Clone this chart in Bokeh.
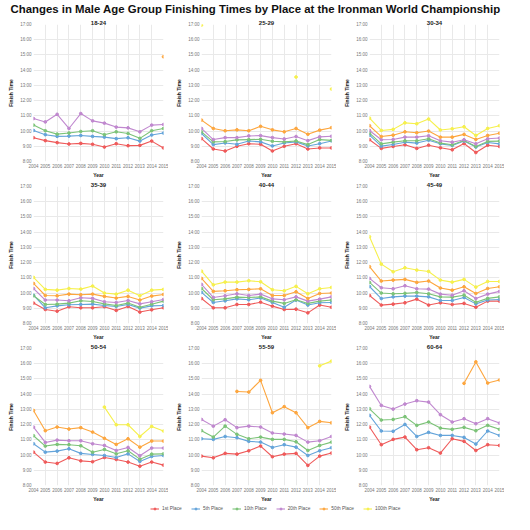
from bokeh.plotting import figure
from bokeh.layouts import gridplot, column
from bokeh.models import FixedTicker, Range1d, Legend, LegendItem
from bokeh.embed import file_html
from bokeh.resources import INLINE

N = float("nan")

title_text = "Changes in Male Age Group Finishing Times by Place at the Ironman World Championship"
years = [2004, 2005, 2006, 2007, 2008, 2009, 2010, 2011, 2012, 2013, 2014, 2015]
hour_ticks = [8, 9, 10, 11, 12, 13, 14, 15, 16, 17]
hour_labels = ["8:00", "9:00", "10:00", "11:00", "12:00", "13:00", "14:00", "15:00", "16:00", "17:00"]
places = ["1st Place", "5th Place", "10th Place", "20th Place", "50th Place", "100th Place"]
colors = ["#ef5a5a", "#64a4da", "#7cc378", "#c088cf", "#fda63e", "#f6f04c"]
age_groups = ["18-24", "25-29", "30-34", "35-39", "40-44", "45-49", "50-54", "55-59", "60-64"]

# finish times in hours, per age group and place (NaN = no finisher at that place)
g1824_1st = [9.56, 9.37, 9.24, 9.15, 9.19, 9.13, 8.95, 9.17, 9.04, 9.06, 9.34, 8.89]
g1824_5th = [10.04, 9.76, 9.65, 9.67, 9.71, 9.65, 9.60, 9.50, 9.56, 9.34, 9.74, 9.87]
g1824_10th = [10.39, 10.02, 9.80, 9.87, 9.97, 10.02, 9.76, 9.95, 9.84, 9.52, 10.02, 10.17]
g1824_20th = [10.82, 10.60, 11.10, 10.17, 11.15, 10.67, 10.52, 10.26, 10.21, 9.95, 10.39, 10.43]
g1824_50th = [N, N, N, N, N, N, N, N, N, N, N, 14.88]
g1824_100th = [N, N, N, N, N, N, N, N, N, N, N, N]

g2529_1st = [9.50, 8.82, 8.69, 9.00, 9.17, 9.13, 8.69, 9.00, 9.17, 8.82, 8.89, 8.89]
g2529_5th = [9.84, 9.11, 9.22, 9.13, 9.35, 9.29, 9.02, 9.22, 9.29, 9.02, 9.17, 9.35]
g2529_10th = [9.95, 9.29, 9.31, 9.42, 9.44, 9.46, 9.33, 9.29, 9.35, 9.11, 9.44, 9.39]
g2529_20th = [10.17, 9.44, 9.57, 9.57, 9.68, 9.70, 9.57, 9.48, 9.64, 9.37, 9.62, 9.66]
g2529_50th = [10.72, 10.17, 10.02, 10.08, 10.02, 10.31, 10.08, 9.95, 10.17, 9.79, 10.06, 10.22]
g2529_100th = [16.96, N, N, N, N, N, N, N, 13.55, N, N, 12.76]

g3034_1st = [9.43, 8.86, 8.99, 9.10, 8.86, 9.07, 8.90, 8.77, 9.18, 8.59, 9.07, 8.99]
g3034_5th = [9.73, 9.01, 9.12, 9.27, 9.21, 9.40, 9.16, 9.05, 9.34, 8.95, 9.25, 9.16]
g3034_10th = [9.86, 9.16, 9.27, 9.36, 9.36, 9.49, 9.21, 9.10, 9.38, 8.99, 9.32, 9.34]
g3034_20th = [10.04, 9.43, 9.45, 9.60, 9.60, 9.69, 9.36, 9.27, 9.43, 9.16, 9.49, 9.54]
g3034_50th = [10.35, 9.64, 9.73, 9.95, 9.89, 10.00, 9.60, 9.60, 9.78, 9.45, 9.71, 9.86]
g3034_100th = [10.85, 10.04, 10.11, 10.54, 10.48, 10.79, 10.07, 10.15, 10.28, 9.71, 10.17, 10.35]

g3539_1st = [9.34, 8.92, 8.81, 9.10, 9.03, 9.03, 9.10, 8.86, 9.12, 8.75, 8.90, 9.03]
g3539_5th = [9.86, 9.03, 9.16, 9.23, 9.25, 9.27, 9.18, 9.12, 9.25, 9.01, 9.16, 9.18]
g3539_10th = [9.82, 9.25, 9.27, 9.34, 9.49, 9.45, 9.29, 9.18, 9.34, 9.07, 9.27, 9.47]
g3539_20th = [10.30, 9.54, 9.54, 9.49, 9.69, 9.65, 9.43, 9.38, 9.51, 9.29, 9.43, 9.58]
g3539_50th = [10.63, 9.84, 9.82, 9.93, 9.89, 9.93, 9.78, 9.67, 9.78, 9.54, 9.80, 9.91]
g3539_100th = [11.03, 10.24, 10.19, 10.30, 10.26, 10.46, 10.00, 9.93, 10.19, 9.82, 10.19, 10.24]

g4044_1st = [9.64, 9.03, 9.03, 9.25, 9.25, 9.40, 9.14, 8.92, 8.94, 8.70, 9.21, 9.07]
g4044_5th = [10.04, 9.38, 9.49, 9.62, 9.56, 9.67, 9.38, 9.07, 9.54, 9.21, 9.36, 9.38]
g4044_10th = [10.30, 9.56, 9.62, 9.73, 9.71, 9.75, 9.47, 9.32, 9.56, 9.32, 9.47, 9.54]
g4044_20th = [10.57, 9.71, 9.82, 9.95, 9.84, 9.93, 9.62, 9.56, 9.75, 9.47, 9.60, 9.75]
g4044_50th = [10.96, 10.11, 10.15, 10.22, 10.24, 10.28, 9.84, 9.84, 10.08, 9.64, 9.97, 10.00]
g4044_100th = [11.44, 10.54, 10.72, 10.72, 10.81, 10.74, 10.22, 10.15, 10.44, 9.95, 10.28, 10.37]

g4549_1st = [9.84, 9.21, 9.27, 9.36, 9.60, 9.21, 9.36, 9.25, 9.32, 9.07, 9.47, 9.47]
g4549_5th = [10.43, 9.64, 9.75, 9.80, 9.80, 9.75, 9.51, 9.51, 9.71, 9.29, 9.54, 9.58]
g4549_10th = [10.70, 10.00, 9.95, 9.98, 10.04, 9.95, 9.75, 9.73, 9.86, 9.40, 9.65, 9.75]
g4549_20th = [10.96, 10.35, 10.28, 10.48, 10.28, 10.26, 9.93, 9.86, 10.15, 9.64, 9.93, 10.11]
g4549_50th = [11.73, 10.79, 10.85, 10.90, 10.70, 10.79, 10.33, 10.19, 10.41, 9.97, 10.30, 10.41]
g4549_100th = [13.70, 11.90, 11.40, 11.66, 11.51, 11.42, 10.85, 10.72, 10.90, 10.39, 10.76, 10.76]

g5054_1st = [10.19, 9.54, 9.45, 9.82, 9.62, 9.56, 9.84, 9.71, 9.54, 9.27, 9.54, 9.34]
g5054_5th = [10.74, 10.19, 10.26, 10.41, 10.11, 10.04, 9.97, 9.84, 10.08, 9.58, 9.91, 9.97]
g5054_10th = [11.27, 10.59, 10.70, 10.68, 10.61, 10.19, 10.37, 10.08, 10.28, 9.73, 10.06, 10.08]
g5054_20th = [11.84, 10.83, 10.98, 10.94, 10.94, 10.74, 10.63, 10.30, 10.50, 9.95, 10.46, 10.46]
g5054_50th = [12.93, 11.60, 11.84, 11.71, 11.80, 11.51, 11.10, 10.70, 11.07, 10.52, 10.92, 10.92]
g5054_100th = [N, N, N, N, N, N, 13.15, 11.99, 11.99, 11.22, 11.88, 11.58]

g5559_1st = [9.93, 9.82, 10.11, 10.06, 10.28, 10.59, 9.89, 10.06, 10.11, 9.32, 9.93, 10.13]
g5559_5th = [11.07, 11.03, 11.22, 11.14, 10.90, 10.85, 10.50, 10.68, 10.52, 9.97, 10.28, 10.48]
g5559_10th = [11.60, 11.18, 11.90, 11.36, 11.07, 11.18, 11.03, 11.03, 10.87, 10.30, 10.63, 10.85]
g5559_20th = [12.34, 11.90, 12.32, 11.80, 11.90, 11.84, 11.45, 11.38, 11.29, 10.85, 10.94, 11.22]
g5559_50th = [N, N, N, 14.18, 14.14, 14.91, 12.78, 13.18, 12.78, 11.80, 12.21, 12.12]
g5559_100th = [N, N, N, N, N, N, N, N, N, N, 15.86, 16.17]

g6064_1st = [11.84, 10.68, 11.03, 11.18, 10.35, 10.48, 10.13, 11.07, 10.90, 10.30, 10.68, 10.63]
g6064_5th = [12.61, 11.58, 11.56, 12.01, 11.22, 11.49, 11.29, 11.29, 11.16, 10.72, 11.58, 11.29]
g6064_10th = [13.04, 12.30, 12.34, 12.52, 11.95, 12.17, 11.77, 11.69, 11.82, 11.60, 11.95, 11.69]
g6064_20th = [14.51, 13.26, 13.02, 13.35, 13.57, 13.48, 12.65, 12.17, 12.39, 12.06, 12.39, 12.10]
g6064_50th = [N, N, N, N, N, N, N, N, 14.71, 16.12, 14.73, 14.93]
g6064_100th = [N, N, N, N, N, N, N, N, N, N, N, N]

panel_series = [
    [g1824_1st, g1824_5th, g1824_10th, g1824_20th, g1824_50th, g1824_100th],
    [g2529_1st, g2529_5th, g2529_10th, g2529_20th, g2529_50th, g2529_100th],
    [g3034_1st, g3034_5th, g3034_10th, g3034_20th, g3034_50th, g3034_100th],
    [g3539_1st, g3539_5th, g3539_10th, g3539_20th, g3539_50th, g3539_100th],
    [g4044_1st, g4044_5th, g4044_10th, g4044_20th, g4044_50th, g4044_100th],
    [g4549_1st, g4549_5th, g4549_10th, g4549_20th, g4549_50th, g4549_100th],
    [g5054_1st, g5054_5th, g5054_10th, g5054_20th, g5054_50th, g5054_100th],
    [g5559_1st, g5559_5th, g5559_10th, g5559_20th, g5559_50th, g5559_100th],
    [g6064_1st, g6064_5th, g6064_10th, g6064_20th, g6064_50th, g6064_100th],
]

FONT = "Liberation Sans"
GRID = "#e9e9e9"


def make_panel(idx):
    p = figure(width=168, height=162,
               x_range=Range1d(years[0], years[-1]),
               y_range=Range1d(hour_ticks[0], hour_ticks[-1]),
               title=age_groups[idx], toolbar_location=None, output_backend="svg",
               min_border_left=33, min_border_right=5, min_border_top=0,
               min_border_bottom=0)
    p.title.align = "center"
    p.title.text_font = FONT
    p.title.text_font_size = "6px"
    p.title.text_font_style = "bold"
    p.title.text_color = "#222222"
    p.title.standoff = 0
    p.outline_line_color = None
    for ax in (p.xaxis, p.yaxis):
        ax.axis_line_color = None
        ax.major_tick_line_color = None
        ax.minor_tick_line_color = None
        ax.major_tick_out = 0
        ax.major_tick_in = 0
        ax.major_label_text_font = FONT
        ax.major_label_text_font_size = "4.5px"
        ax.major_label_text_color = "#777777"
        ax.axis_label_text_font = FONT
        ax.axis_label_text_font_size = "5px"
        ax.axis_label_text_font_style = "bold"
        ax.axis_label_text_color = "#222222"
        ax.major_label_standoff = 2
        ax.axis_label_standoff = 1
    p.xaxis.ticker = FixedTicker(ticks=years)
    p.xaxis.axis_label = "Year"
    p.yaxis.ticker = FixedTicker(ticks=hour_ticks)
    p.yaxis.major_label_overrides = dict(zip(hour_ticks, hour_labels))
    p.yaxis.axis_label = "Finish Time"
    p.yaxis.axis_label_standoff = 3
    p.xgrid.grid_line_color = GRID
    p.ygrid.grid_line_color = GRID
    for vals, c in zip(panel_series[idx], colors):
        p.line(years, vals, line_color=c, line_width=1.1)
        p.scatter(years, vals, size=2.7, fill_color=c, line_color=c)
    return p


panels = [make_panel(i) for i in range(9)]
grid = gridplot([panels[0:3], panels[3:6], panels[6:9]], toolbar_location=None)

tf = figure(width=510, height=18, title=title_text, toolbar_location=None,
            output_backend="svg", x_axis_location=None, y_axis_location=None,
            min_border=0, min_border_top=7,
            x_range=Range1d(0, 1), y_range=Range1d(0, 1))
tf.title.align = "center"
tf.title.text_font = FONT
tf.title.text_font_size = "11.4px"
tf.title.text_font_style = "bold"
tf.title.text_color = "#111111"
tf.title.standoff = 0
tf.outline_line_color = None
tf.xgrid.visible = False
tf.ygrid.visible = False

lf = figure(width=510, height=8, toolbar_location=None, output_backend="svg",
            x_axis_location=None, y_axis_location=None, min_border=0,
            x_range=Range1d(0, 1), y_range=Range1d(0, 1))
lf.outline_line_color = None
lf.xgrid.visible = False
lf.ygrid.visible = False
items = []
for name, c in zip(places, colors):
    r1 = lf.line([N], [N], line_color=c, line_width=1.1)
    r2 = lf.scatter([N], [N], size=2.7, fill_color=c, line_color=c)
    items.append(LegendItem(label=name, renderers=[r1, r2]))
leg = Legend(items=items, orientation="horizontal", location=(150, 1),
             label_text_font=FONT, label_text_font_size="4.8px", label_text_color="#555555",
             glyph_width=9, glyph_height=5, label_standoff=3, spacing=9,
             padding=0, margin=0, border_line_color=None, background_fill_alpha=0,
             label_height=5)
lf.add_layout(leg, "center")

layout = column(tf, grid, lf)
open("out.html", "w").write(file_html(layout, INLINE))
